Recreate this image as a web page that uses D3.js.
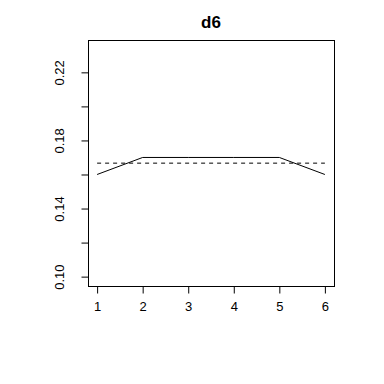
<!DOCTYPE html>
<html>
<head>
<meta charset="utf-8">
<script src="https://cdn.jsdelivr.net/npm/d3@7"></script>
<style>
  body { margin: 0; background: #fff; }
  text { font-family: "Liberation Sans", Arial, sans-serif; }
</style>
</head>
<body>
<script>
var faces = [1, 2, 3, 4, 5, 6];
var probs = [0.16, 0.17, 0.17, 0.17, 0.17, 0.16];
var expected = 1 / 6;
var yTicks = [0.10, 0.12, 0.14, 0.16, 0.18, 0.20, 0.22];
var yLabels = [0.10, 0.14, 0.18, 0.22];
var title = "d6";

var margin = { top: 40, right: 50, bottom: 98, left: 88 },
    width = 384 - margin.left - margin.right,
    height = 384 - margin.top - margin.bottom;

var x = d3.scaleLinear().domain([0.8, 6.2]).range([0, width]);
var y = d3.scaleLinear().domain([0.0945, 0.239]).range([height, 0]);

var svg = d3.select("body").append("svg")
    .attr("width", 384)
    .attr("height", 384);

var g = svg.append("g")
    .attr("transform", "translate(" + margin.left + "," + margin.top + ")");

// box
g.append("rect")
    .attr("x", 0.5).attr("y", 0.5)
    .attr("width", width).attr("height", height)
    .attr("fill", "none").attr("stroke", "#000");

// x axis
var xAxis = d3.axisBottom(x).tickValues(faces).tickSize(7).tickPadding(8).tickFormat(d3.format("d"));
g.append("g")
    .attr("transform", "translate(0," + (height + 0.5) + ")")
    .call(xAxis)
    .call(function (a) {
        a.attr("font-size", null).attr("font-family", null);
        a.select(".domain").attr("d", "M" + x(1) + ",0H" + x(6));
        a.selectAll("text").style("font-size", "13px").attr("fill", "#000");
    });

// y axis
var yAxis = d3.axisLeft(y).tickValues(yTicks).tickSize(7)
    .tickFormat(function (d) { return yLabels.some(function (v) { return Math.abs(v - d) < 1e-9; }) ? d3.format(".2f")(d) : ""; });
g.append("g")
    .attr("transform", "translate(0.5,0)")
    .call(yAxis)
    .call(function (a) {
        a.attr("font-size", null).attr("font-family", null);
        a.select(".domain").attr("d", "M0," + y(0.10) + "V" + y(0.22));
        a.selectAll("text")
            .style("font-size", "13px")
            .attr("fill", "#000")
            .attr("text-anchor", "middle")
            .attr("dy", null)
            .attr("x", null)
            .attr("transform", "translate(-25,0) rotate(-90)");
    });
g.selectAll(".tick line").attr("stroke", "#000");

// expected line
g.append("line")
    .attr("x1", x(1)).attr("x2", x(6))
    .attr("y1", y(expected)).attr("y2", y(expected))
    .attr("stroke", "#000").attr("stroke-dasharray", "4,4");

// observed line
var line = d3.line()
    .x(function (d, i) { return x(faces[i]); })
    .y(function (d) { return y(d); });
g.append("path")
    .datum(probs)
    .attr("d", line)
    .attr("fill", "none")
    .attr("stroke", "#000");

// title
svg.append("text")
    .attr("x", margin.left + width / 2)
    .attr("y", 27.5)
    .attr("text-anchor", "middle")
    .style("font-size", "17px")
    .attr("font-weight", "bold")
    .text(title);
</script>
</body>
</html>
